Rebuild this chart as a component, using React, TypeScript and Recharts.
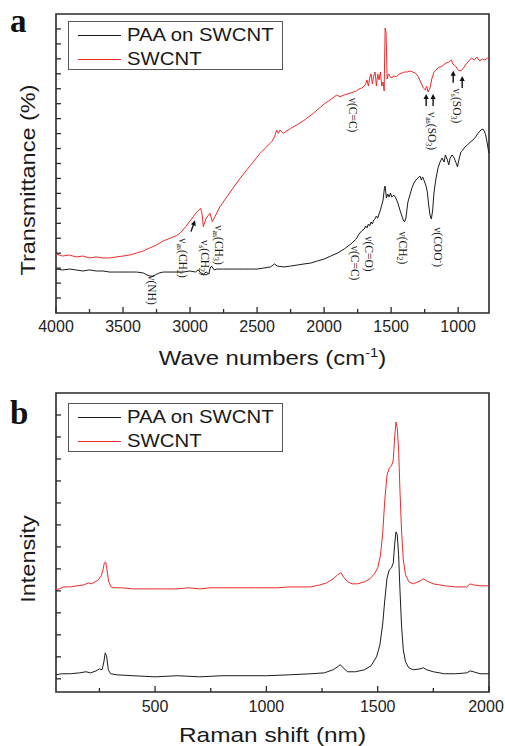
import { LineChart, Line, XAxis, YAxis, ReferenceArea, ReferenceDot } from 'recharts'

// Series names (legend order)
const seriesNames = ['PAA on SWCNT', 'SWCNT']
const seriesColors = ['#1c1c1c', '#ee2b2b']

// ---- panel a: FTIR, [wavenumber cm-1, transmittance (arb.)] ----
const ftirSwcnt: [number, number][] = [
  [4000, 3.95], [3950, 3.81], [3900, 3.88], [3850, 3.75], [3800, 3.81], [3750, 3.68],
  [3700, 3.75], [3650, 3.68], [3600, 3.68], [3550, 3.75], [3500, 3.81], [3450, 3.88],
  [3400, 4.01], [3350, 4.15], [3300, 4.35], [3250, 4.55], [3200, 4.82], [3150, 5.0],
  [3100, 5.18], [3075, 5.33], [3030, 5.8], [2976, 6.44], [2950, 6.76], [2921, 7.0],
  [2910, 6.62], [2901, 5.77], [2880, 6.35], [2851, 6.67], [2834, 6.11], [2777, 7.11],
  [2700, 8.09], [2627, 9.01], [2550, 9.87], [2478, 10.68], [2391, 11.46], [2370, 11.77],
  [2354, 12.24], [2342, 12.02], [2330, 12.24], [2305, 12.02], [2250, 12.34], [2204, 12.58],
  [2150, 12.88], [2080, 13.36], [2000, 13.98], [1956, 14.25], [1906, 14.58], [1882, 14.47],
  [1850, 14.58], [1800, 14.72], [1760, 14.85], [1740, 14.98], [1720, 15.05], [1700, 15.18],
  [1690, 15.32], [1680, 15.59], [1670, 15.18], [1660, 15.72], [1650, 15.99], [1640, 15.32],
  [1630, 15.85], [1620, 16.12], [1610, 15.18], [1600, 15.99], [1590, 15.59], [1580, 16.12],
  [1570, 15.18], [1560, 15.45], [1552, 14.85], [1545, 19.06], [1538, 18.8], [1530, 15.65],
  [1520, 15.99], [1500, 15.72], [1480, 15.85], [1460, 15.79], [1440, 15.99], [1420, 16.05],
  [1400, 16.12], [1380, 16.12], [1360, 16.19], [1340, 16.12], [1320, 16.05], [1300, 15.85],
  [1280, 15.45], [1260, 15.05], [1245, 14.92], [1235, 15.18], [1225, 14.78], [1210, 15.05],
  [1195, 15.72], [1180, 16.12], [1150, 16.39], [1120, 16.52], [1090, 16.72], [1070, 16.79],
  [1050, 16.92], [1040, 16.66], [1020, 16.52], [1000, 16.25], [980, 16.19], [960, 16.39],
  [940, 16.66], [920, 16.86], [900, 17.06], [880, 16.92], [860, 17.12], [840, 16.86],
  [820, 16.99], [800, 16.92], [780, 17.06], [770, 17.06],
]

const ftirPaa: [number, number][] = [
  [4000, 2.94], [3950, 2.88], [3900, 2.94], [3850, 2.88], [3800, 2.81], [3750, 2.88],
  [3700, 2.81], [3650, 2.81], [3600, 2.74], [3550, 2.74], [3500, 2.74], [3450, 2.74],
  [3400, 2.74], [3350, 2.68], [3320, 2.54], [3300, 2.47], [3280, 2.47], [3260, 2.54],
  [3230, 2.68], [3200, 2.74], [3150, 2.74], [3100, 2.74], [3050, 2.74], [3000, 2.81],
  [2960, 2.74], [2940, 2.88], [2920, 2.68], [2900, 2.61], [2880, 2.74], [2860, 2.61],
  [2850, 3.01], [2840, 3.14], [2820, 2.88], [2800, 2.94], [2750, 2.94], [2700, 2.94],
  [2650, 2.94], [2600, 2.94], [2550, 2.94], [2500, 2.94], [2450, 3.01], [2400, 3.08],
  [2370, 3.28], [2350, 3.14], [2300, 3.08], [2250, 3.14], [2200, 3.21], [2150, 3.28],
  [2100, 3.34], [2050, 3.48], [2000, 3.61], [1950, 3.81], [1900, 4.01], [1850, 4.28],
  [1800, 4.62], [1760, 4.95], [1740, 5.28], [1720, 5.49], [1700, 5.62], [1690, 5.82],
  [1680, 5.69], [1670, 5.95], [1660, 5.82], [1650, 6.09], [1640, 5.95], [1630, 6.22],
  [1620, 6.29], [1610, 6.49], [1600, 6.35], [1590, 6.62], [1580, 6.89], [1570, 7.22],
  [1560, 7.56], [1550, 8.36], [1545, 8.49], [1535, 7.69], [1525, 7.96], [1515, 7.76],
  [1505, 8.03], [1495, 7.76], [1480, 7.89], [1465, 7.69], [1450, 7.36], [1430, 6.76],
  [1410, 6.22], [1400, 6.09], [1390, 6.35], [1375, 7.42], [1360, 7.89], [1345, 8.36],
  [1330, 8.7], [1315, 8.9], [1300, 9.03], [1285, 9.16], [1275, 8.9], [1265, 9.1],
  [1250, 8.76], [1240, 8.5], [1230, 8.09], [1220, 7.22], [1210, 6.56], [1200, 6.29],
  [1190, 6.89], [1180, 8.09], [1165, 9.03], [1150, 9.7], [1135, 10.1], [1120, 10.37],
  [1105, 10.1], [1095, 10.57], [1080, 10.23], [1070, 9.9], [1060, 10.37], [1045, 10.57],
  [1030, 10.37], [1015, 10.03], [1005, 9.77], [995, 10.23], [980, 10.77], [965, 10.9],
  [950, 11.1], [930, 11.24], [910, 11.44], [890, 11.57], [870, 11.77], [850, 12.04],
  [830, 12.24], [815, 12.31], [805, 12.17], [795, 11.91], [785, 11.44], [775, 10.9],
  [770, 10.7],
]

const ftirXTicks = [1000, 1250, 1500, 1750, 2000, 2250, 2500, 2750, 3000, 3250, 3500, 3750, 4000]
const ftirXMajor = [1000, 1500, 2000, 2500, 3000, 3500, 4000]
const ftirYTicks = [1, 2, 3, 4, 5, 6, 7, 8, 9, 10, 11, 12, 13, 14, 15, 16, 17, 18, 19]

// band assignments, [wavenumber, level, label]
const ftirNotes: [number, number, string][] = [
  [3284, 1.54, 'ν(NH)'],
  [3053, 3.68, 'ν_{as}(CH_{2})'],
  [2889, 3.68, 'ν_{s}(CH_{2})'],
  [2784, 4.55, 'ν_{as}(CH_{3})'],
  [1785, 13.24, 'ν(C=C)'],
  [1195, 12.17, 'ν_{as}(SO_{3})'],
  [1009, 13.85, 'ν_{s}(SO_{3})'],
  [1770, 3.34, 'ν(C=C)'],
  [1665, 3.95, 'ν(C=O)'],
  [1412, 4.35, 'ν(CH_{2})'],
  [1150, 4.41, 'ν(COO^{-})'],
]
// small arrows, [wavenumber, level, tilt deg]
const ftirArrows: [number, number, number][] = [
  [2978, 5.82, 20], [1239, 14.25, 0], [1187, 14.25, 0], [1037, 15.8, 0], [970, 15.45, 0],
]

// ---- panel b: Raman, [shift, intensity (arb.)] ----
const ramanSwcnt: [number, number][] = [
  [55, 4.05], [70, 4.09], [90, 4.18], [120, 4.18], [150, 4.23], [180, 4.27], [200, 4.36],
  [215, 4.32], [230, 4.41], [245, 4.5], [258, 4.68], [266, 4.95], [272, 5.27], [278, 5.32],
  [284, 4.95], [292, 4.41], [302, 4.18], [315, 4.14], [350, 4.14], [400, 4.09], [450, 4.09],
  [500, 4.09], [550, 4.09], [600, 4.09], [650, 4.14], [700, 4.09], [750, 4.14], [800, 4.14],
  [850, 4.14], [900, 4.14], [950, 4.14], [1000, 4.14], [1050, 4.14], [1100, 4.18], [1150, 4.18],
  [1200, 4.18], [1240, 4.27], [1270, 4.36], [1300, 4.55], [1320, 4.73], [1335, 4.82],
  [1350, 4.59], [1365, 4.41], [1385, 4.32], [1410, 4.32], [1440, 4.41], [1465, 4.55],
  [1485, 4.77], [1500, 5.05], [1512, 5.59], [1522, 6.55], [1532, 8.14], [1542, 9.27],
  [1552, 9.59], [1562, 9.68], [1570, 9.95], [1576, 10.95], [1582, 11.68], [1588, 11.41],
  [1594, 10.41], [1600, 8.59], [1607, 6.77], [1615, 5.41], [1625, 4.73], [1640, 4.41],
  [1660, 4.32], [1690, 4.45], [1705, 4.55], [1720, 4.45], [1750, 4.32], [1800, 4.23],
  [1850, 4.18], [1900, 4.18], [1915, 4.32], [1930, 4.27], [1960, 4.23], [2000, 4.23],
]

const ramanPaa: [number, number][] = [
  [55, 0.18], [80, 0.23], [120, 0.23], [160, 0.27], [190, 0.32], [210, 0.27], [235, 0.36],
  [250, 0.45], [262, 0.41], [270, 0.77], [276, 1.18], [282, 1.05], [290, 0.41], [300, 0.23],
  [330, 0.18], [400, 0.14], [500, 0.09], [600, 0.14], [700, 0.09], [800, 0.14], [900, 0.14],
  [1000, 0.14], [1100, 0.18], [1200, 0.23], [1260, 0.27], [1300, 0.41], [1320, 0.55],
  [1332, 0.64], [1345, 0.5], [1365, 0.32], [1400, 0.32], [1440, 0.41], [1470, 0.59],
  [1495, 1.0], [1510, 1.55], [1522, 2.45], [1532, 3.59], [1542, 4.59], [1552, 4.95],
  [1562, 5.05], [1570, 5.27], [1576, 6.09], [1582, 6.68], [1588, 6.55], [1594, 5.64],
  [1600, 4.05], [1607, 2.45], [1615, 1.32], [1625, 0.77], [1640, 0.5], [1660, 0.41],
  [1690, 0.45], [1705, 0.5], [1720, 0.41], [1750, 0.32], [1800, 0.23], [1850, 0.23],
  [1900, 0.27], [1915, 0.36], [1930, 0.32], [1960, 0.23], [2000, 0.23],
]

const ramanXTicks = [250, 500, 750, 1000, 1250, 1500, 1750, 2000]
const ramanXMajor = [500, 1000, 1500, 2000]
const ramanYTicks = [0, 1, 2, 3, 4, 5, 6, 7, 8, 9, 10, 11, 12]

const SANS = '"Liberation Sans", Arial, sans-serif'
const SERIF = '"Liberation Serif", "Times New Roman", serif'
const AXIS = '#2a2a2a'

const toPts = (arr: [number, number][]) => arr.map(([x, y]) => ({ x, y }))

// parse "ν_{as}(CH_{2})" into runs
function parseNote(s: string) {
  const runs: { t: string; k: number }[] = []
  const re = /([_^])\{([^}]*)\}|([^_^]+)/g
  let m: RegExpExecArray | null
  while ((m = re.exec(s))) {
    if (m[3]) runs.push({ t: m[3], k: 0 })
    else runs.push({ t: m[2], k: m[1] === '_' ? 1 : -1 })
  }
  return runs
}

function NoteShape({ cx, cy, text }: any) {
  if (cx == null || cy == null) return null
  const runs = parseNote(text)
  let shift = 0
  return (
    <text
      transform={`translate(${cx},${cy}) rotate(90)`}
      textAnchor="middle"
      dominantBaseline="central"
      fontFamily={SERIF}
      fontSize={11.5}
      fill="#1a1a1a"
    >
      {runs.map((r, i) => {
        const target = r.k * 3
        const dy = target - shift
        shift = target
        return (
          <tspan key={i} dy={dy} fontSize={r.k ? 8 : 11.5}>
            {r.t}
          </tspan>
        )
      })}
    </text>
  )
}

function ArrowShape({ cx, cy, tilt }: any) {
  if (cx == null || cy == null) return null
  return (
    <g transform={`translate(${cx},${cy}) rotate(${tilt})`}>
      <line x1={0} y1={6} x2={0} y2={-2} stroke="#111" strokeWidth={1.4} />
      <path d="M -2.6 -1 L 0 -6 L 2.6 -1 Z" fill="#111" />
    </g>
  )
}

function XTick({ x, y, payload, major, labelDy, edge }: any) {
  const isMajor = major.includes(payload.value)
  const lx = payload.value === edge ? x - 3 : x
  return (
    <g>
      <line x1={x} x2={x} y1={y} y2={y - (isMajor ? 6 : 4)} stroke={AXIS} strokeWidth={1.3} />
      {isMajor && (
        <text x={lx} y={y + labelDy} textAnchor="middle" fontFamily={SANS} fontSize={16} fill="#222">
          {payload.value}
        </text>
      )}
    </g>
  )
}

function YTick({ x, y }: any) {
  return <line x1={x} x2={x + 5} y1={y} y2={y} stroke={AXIS} strokeWidth={1.3} />
}

function StretchText({ x, y, rotate = 0, sx = 1, children, size = 21 }: any) {
  return (
    <text
      transform={`translate(${x},${y}) rotate(${rotate}) scale(${sx},1)`}
      textAnchor="middle"
      fontFamily={SANS}
      fontSize={size}
      fill="#1a1a1a"
    >
      {children}
    </text>
  )
}

function Legend({ top }: { top: number }) {
  return (
    <div
      style={{
        position: 'absolute',
        left: 68,
        top,
        width: 213,
        height: 47,
        border: '1px solid #555',
        background: '#fff',
        fontFamily: SANS,
      }}
    >
      {seriesNames.map((name, i) => (
        <div key={name} style={{ position: 'absolute', left: 0, top: 2 + i * 23.5, height: 22, width: 213 }}>
          <div style={{ position: 'absolute', left: 9, top: 11, width: 43, height: 1, background: seriesColors[i] }} />
          <div
            style={{
              position: 'absolute',
              left: 58,
              top: 0,
              fontSize: 18,
              lineHeight: '22px',
              color: '#1a1a1a',
              whiteSpace: 'nowrap',
              transform: 'scaleX(1.13)',
              transformOrigin: 'left center',
            }}
          >
            {name}
          </div>
        </div>
      ))}
    </div>
  )
}

function PanelLetter({ ch, top }: { ch: string; top: number }) {
  return (
    <div
      style={{
        position: 'absolute',
        left: 10,
        top,
        fontFamily: SERIF,
        fontWeight: 'bold',
        fontSize: 33,
        lineHeight: '33px',
        color: '#111',
      }}
    >
      {ch}
    </div>
  )
}

function FtirChart() {
  const paa = toPts(ftirPaa)
  const sw = toPts(ftirSwcnt)
  return (
    <LineChart width={505} height={380} margin={{ top: 14, right: 16, left: 0, bottom: 0 }}>
      <XAxis
        dataKey="x"
        type="number"
        domain={[770, 4000]}
        reversed
        ticks={ftirXTicks}
        interval={0}
        tickSize={0}
        tickMargin={0}
        axisLine={false}
        height={67}
        tick={<XTick major={ftirXMajor} labelDy={19} />}
        label={{
          content: ({ viewBox }: any) => (
            <StretchText x={viewBox.x + viewBox.width / 2} y={viewBox.y + 52} sx={1.14}>
              Wave numbers (cm
              <tspan dy={-8} fontSize={13}>-1</tspan>
              <tspan dy={8}>)</tspan>
            </StretchText>
          ),
        }}
      />
      <YAxis
        type="number"
        domain={[0, 20]}
        ticks={ftirYTicks}
        interval={0}
        tickSize={0}
        tickMargin={0}
        axisLine={false}
        width={56}
        tick={<YTick />}
        label={{
          content: ({ viewBox }: any) => (
            <StretchText x={35} y={viewBox.y + 166} rotate={-90} sx={1.12}>
              Transmittance (%)
            </StretchText>
          ),
        }}
      />
      <ReferenceArea x1={770} x2={4000} y1={0} y2={20} fill="none" stroke={AXIS} strokeWidth={1.6} strokeOpacity={1} />
      <Line data={paa} dataKey="y" name={seriesNames[0]} stroke={seriesColors[0]} strokeWidth={1} dot={false} isAnimationActive={false} />
      <Line data={sw} dataKey="y" name={seriesNames[1]} stroke={seriesColors[1]} strokeWidth={1} dot={false} isAnimationActive={false} />
      {ftirNotes.map(([wn, lv, text], i) => (
        <ReferenceDot key={'n' + i} x={wn} y={lv} r={0} shape={(p: any) => <NoteShape {...p} text={text} />} />
      ))}
      {ftirArrows.map(([wn, lv, tilt], i) => (
        <ReferenceDot key={'a' + i} x={wn} y={lv} r={0} shape={(p: any) => <ArrowShape {...p} tilt={tilt} />} />
      ))}
    </LineChart>
  )
}

function RamanChart() {
  const paa = toPts(ramanPaa)
  const sw = toPts(ramanSwcnt)
  return (
    <LineChart width={505} height={366} margin={{ top: 13, right: 16, left: 0, bottom: 0 }}>
      <XAxis
        dataKey="x"
        type="number"
        domain={[55, 2000]}
        ticks={ramanXTicks}
        interval={0}
        tickSize={0}
        tickMargin={0}
        axisLine={false}
        height={54}
        tick={<XTick major={ramanXMajor} labelDy={20} edge={2000} />}
        label={{
          content: ({ viewBox }: any) => (
            <StretchText x={viewBox.x + viewBox.width / 2} y={viewBox.y + 50} sx={1.22} size={20}>
              Raman shift (nm)
            </StretchText>
          ),
        }}
      />
      <YAxis
        type="number"
        domain={[-0.6, 13]}
        ticks={ramanYTicks}
        interval={0}
        tickSize={0}
        tickMargin={0}
        axisLine={false}
        width={56}
        tick={<YTick />}
        label={{
          content: ({ viewBox }: any) => (
            <StretchText x={35} y={viewBox.y + 166} rotate={-90} sx={1.12}>
              Intensity
            </StretchText>
          ),
        }}
      />
      <ReferenceArea x1={55} x2={2000} y1={-0.6} y2={13} fill="none" stroke={AXIS} strokeWidth={1.6} strokeOpacity={1} />
      <Line data={paa} dataKey="y" name={seriesNames[0]} stroke={seriesColors[0]} strokeWidth={1} dot={false} isAnimationActive={false} />
      <Line data={sw} dataKey="y" name={seriesNames[1]} stroke={seriesColors[1]} strokeWidth={1} dot={false} isAnimationActive={false} />
    </LineChart>
  )
}

export default function App() {
  return (
    <div style={{ position: 'absolute', left: 0, top: 0, width: 505, height: 746, background: '#fff' }}>
      <div style={{ position: 'absolute', left: 0, top: 0 }}>
        <FtirChart />
      </div>
      <div style={{ position: 'absolute', left: 0, top: 380 }}>
        <RamanChart />
      </div>
      <Legend top={21} />
      <Legend top={403} />
      <PanelLetter ch="a" top={5} />
      <PanelLetter ch="b" top={397} />
    </div>
  )
}
